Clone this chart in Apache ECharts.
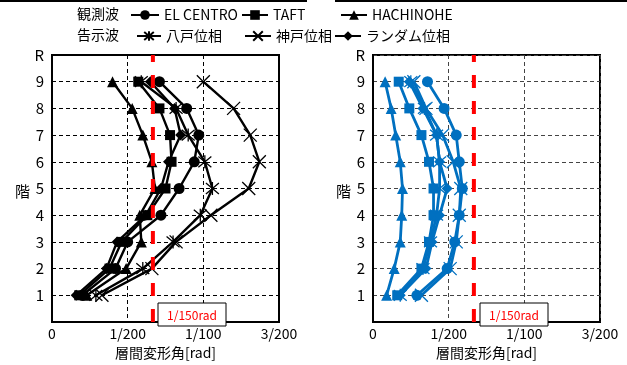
<!DOCTYPE html>
<html>
<head>
<meta charset="utf-8">
<script src="https://cdn.jsdelivr.net/npm/echarts@6/dist/echarts.min.js"></script>
<style>
html, body { margin: 0; padding: 0; background: #fff; }
#main { width: 627px; height: 365px; }
</style>
</head>
<body>
<div id="main"></div>
<script>
// 階 (1〜9) ごとの層間変形角 [×1/1000 rad]
var floors = [1, 2, 3, 4, 5, 6, 7, 8, 9];
var xTickLabels = {0: '0', 5: '1/200', 10: '1/100', 15: '3/200'};
var limitDrift = 1000 / 150;

// 左: 黒
var elCentroL   = [2.0, 4.2, 5.0, 7.2, 8.4, 9.4, 9.7, 8.9, 7.1];
var taftL       = [1.8, 3.8, 4.6, 6.3, 7.5, 7.9, 7.8, 7.1, 5.7];
var hachinoheL  = [2.3, 4.9, 5.9, 5.8, 6.8, 6.6, 6.0, 5.3, 4.0];
var hachiPhaseL = [2.9, 6.0, 8.0, 9.8, 10.6, 10.1, 9.0, 8.2, 5.9];
var kobePhaseL  = [3.3, 6.6, 8.2, 10.5, 13.0, 13.7, 13.1, 12.0, 10.0];
var randPhaseL  = [1.6, 3.6, 4.3, 6.2, 7.2, 7.7, 8.5, 8.1, 6.5];

// 右: 青
var elCentroR   = [2.9, 4.9, 5.4, 5.7, 5.9, 5.7, 5.5, 4.7, 3.6];
var taftR       = [1.6, 3.2, 3.7, 4.0, 4.0, 3.7, 3.2, 2.4, 1.7];
var hachinoheR  = [0.9, 1.4, 1.8, 1.9, 1.95, 1.8, 1.5, 1.2, 0.8];
var hachiPhaseR = [1.8, 3.3, 3.8, 4.2, 4.4, 4.4, 4.2, 3.4, 2.5];
var kobePhaseR  = [3.2, 5.1, 5.5, 5.7, 5.8, 5.3, 4.6, 3.5, 2.7];
var randPhaseR  = [1.8, 3.5, 3.9, 4.4, 4.9, 4.4, 4.2, 3.3, 2.4];

var numFont = "'Noto Sans CJK JP', sans-serif";
var jpFont = "'Noto Sans CJK JP', sans-serif";

var crossPath = 'path://M0,0 L10,10 M10,0 L0,10';
var starPath = 'path://M0,0 L10,10 M10,0 L0,10 M5,-1 L5,11';

var kinds = [
	{name: 'EL CENTRO', symbol: 'circle', size: 11, stroke: false},
	{name: 'TAFT', symbol: 'rect', size: 10, stroke: false},
	{name: 'HACHINOHE', symbol: 'triangle', size: 11, stroke: false},
	{name: '八戸位相', symbol: starPath, size: 13, stroke: true},
	{name: '神戸位相', symbol: crossPath, size: 13, stroke: true},
	{name: 'ランダム位相', symbol: 'diamond', size: 11, stroke: false}
];

function toPoints(arr) {
	var pts = [];
	for (var i = 0; i < arr.length; i++) {
		pts.push([arr[i], floors[i]]);
	}
	return pts;
}

function makeSeries(kind, arr, color, idx, width) {
	return {
		name: kind.name,
		type: 'line',
		xAxisIndex: idx,
		yAxisIndex: idx,
		data: toPoints(arr),
		symbol: kind.symbol,
		symbolSize: kind.size,
		lineStyle: {color: color, width: width},
		itemStyle: {
			color: color,
			borderColor: color,
			borderWidth: kind.stroke ? 1.3 : 0
		}
	};
}

var leftSets = [elCentroL, taftL, hachinoheL, hachiPhaseL, kobePhaseL, randPhaseL];
var rightSets = [elCentroR, taftR, hachinoheR, hachiPhaseR, kobePhaseR, randPhaseR];

var series = [];
for (var i = 0; i < kinds.length; i++) {
	series.push(makeSeries(kinds[i], leftSets[i], '#000', 0, 2.4));
}
for (var j = 0; j < kinds.length; j++) {
	series.push(makeSeries(kinds[j], rightSets[j], '#0070C0', 1, 2.8));
}
// 1/150rad の赤い破線
[0, 1].forEach(function (idx) {
	series.push({
		name: 'limit',
		type: 'line',
		xAxisIndex: idx,
		yAxisIndex: idx,
		data: [[limitDrift, 0], [limitDrift, 10]],
		symbol: 'none',
		z: 5,
		lineStyle: {color: '#ff0000', width: 4, type: [13, 13]}
	});
});

function xAxisOf(idx) {
	return {
		gridIndex: idx,
		type: 'value',
		min: 0,
		max: 15,
		interval: 5,
		name: '層間変形角[rad]',
		nameLocation: 'middle',
		nameGap: 24,
		nameTextStyle: {color: '#000', fontSize: 14, fontFamily: numFont},
		axisLine: {show: true, lineStyle: {color: '#000', width: 2}},
		axisTick: {show: false},
		axisLabel: {
			color: '#000', fontSize: 14, fontFamily: numFont, margin: 5,
			formatter: function (v) { return xTickLabels[v] || ''; }
		},
		splitLine: {show: true, lineStyle: {color: idx ? '#444' : '#000', type: [4, 3], width: 1}}
	};
}

function yAxisOf(idx) {
	return {
		gridIndex: idx,
		type: 'value',
		min: 0,
		max: 10,
		interval: 1,
		axisLine: {show: true, lineStyle: {color: '#000', width: 2}},
		axisTick: {show: false},
		axisLabel: {
			color: '#000', fontSize: 15, fontFamily: numFont, margin: 8,
			formatter: function (v) { return v === 10 ? 'R' : (v === 0 ? '' : String(v)); }
		},
		splitLine: {show: true, lineStyle: {color: idx ? '#444' : '#000', type: [4, 3], width: 1}}
	};
}

function legendOf(name, left, top, w) {
	return {
		data: [name],
		left: left,
		top: top,
		padding: 0,
		itemWidth: w,
		itemHeight: 12,
		itemGap: 0,
		selectedMode: false,
		textStyle: {color: '#000', fontSize: 14, fontFamily: numFont, padding: [0, 0, 0, 0]}
	};
}

var myChart = echarts.init(document.getElementById('main'));
var option = {
	animation: false,
	backgroundColor: '#fff',
	grid: [
		{left: 52, right: 348, top: 55, bottom: 38, show: true, borderColor: '#000', borderWidth: 2},
		{left: 373, right: 27, top: 55, bottom: 38, show: true, borderColor: '#000', borderWidth: 2}
	],
	xAxis: [xAxisOf(0), xAxisOf(1)],
	yAxis: [yAxisOf(0), yAxisOf(1)],
	legend: [
		legendOf('EL CENTRO', 130, 8, 28),
		legendOf('TAFT', 241, 8, 26),
		legendOf('HACHINOHE', 340, 8, 26),
		legendOf('八戸位相', 136, 29, 24),
		legendOf('神戸位相', 244, 29, 26),
		legendOf('ランダム位相', 334, 29, 26)
	],
	graphic: [
		{type: 'rect', shape: {x: 0, y: 0, width: 307, height: 2}, style: {fill: '#000'}},
		{type: 'rect', shape: {x: 335, y: 0, width: 292, height: 2}, style: {fill: '#000'}},
		{type: 'text', x: 77, y: 7, style: {text: '観測波', fill: '#000', font: '14px ' + jpFont}},
		{type: 'text', x: 77, y: 28, style: {text: '告示波', fill: '#000', font: '14px ' + jpFont}},
		{type: 'text', x: 15, y: 184, style: {text: '階', fill: '#000', font: '15px ' + jpFont}},
		{type: 'text', x: 336, y: 184, style: {text: '階', fill: '#000', font: '15px ' + jpFont}},
		{type: 'rect', z: 10, shape: {x: 158, y: 303, width: 68, height: 23}, style: {fill: '#fff', stroke: '#000', lineWidth: 1}},
		{type: 'text', z: 11, x: 192, y: 315, style: {text: '1/150rad', fill: '#ff0000', font: '12px ' + numFont, align: 'center', verticalAlign: 'middle'}},
		{type: 'rect', z: 10, shape: {x: 480, y: 303, width: 68, height: 23}, style: {fill: '#fff', stroke: '#000', lineWidth: 1}},
		{type: 'text', z: 11, x: 514, y: 315, style: {text: '1/150rad', fill: '#ff0000', font: '12px ' + numFont, align: 'center', verticalAlign: 'middle'}}
	],
	series: series
};
myChart.setOption(option);
</script>
</body>
</html>
